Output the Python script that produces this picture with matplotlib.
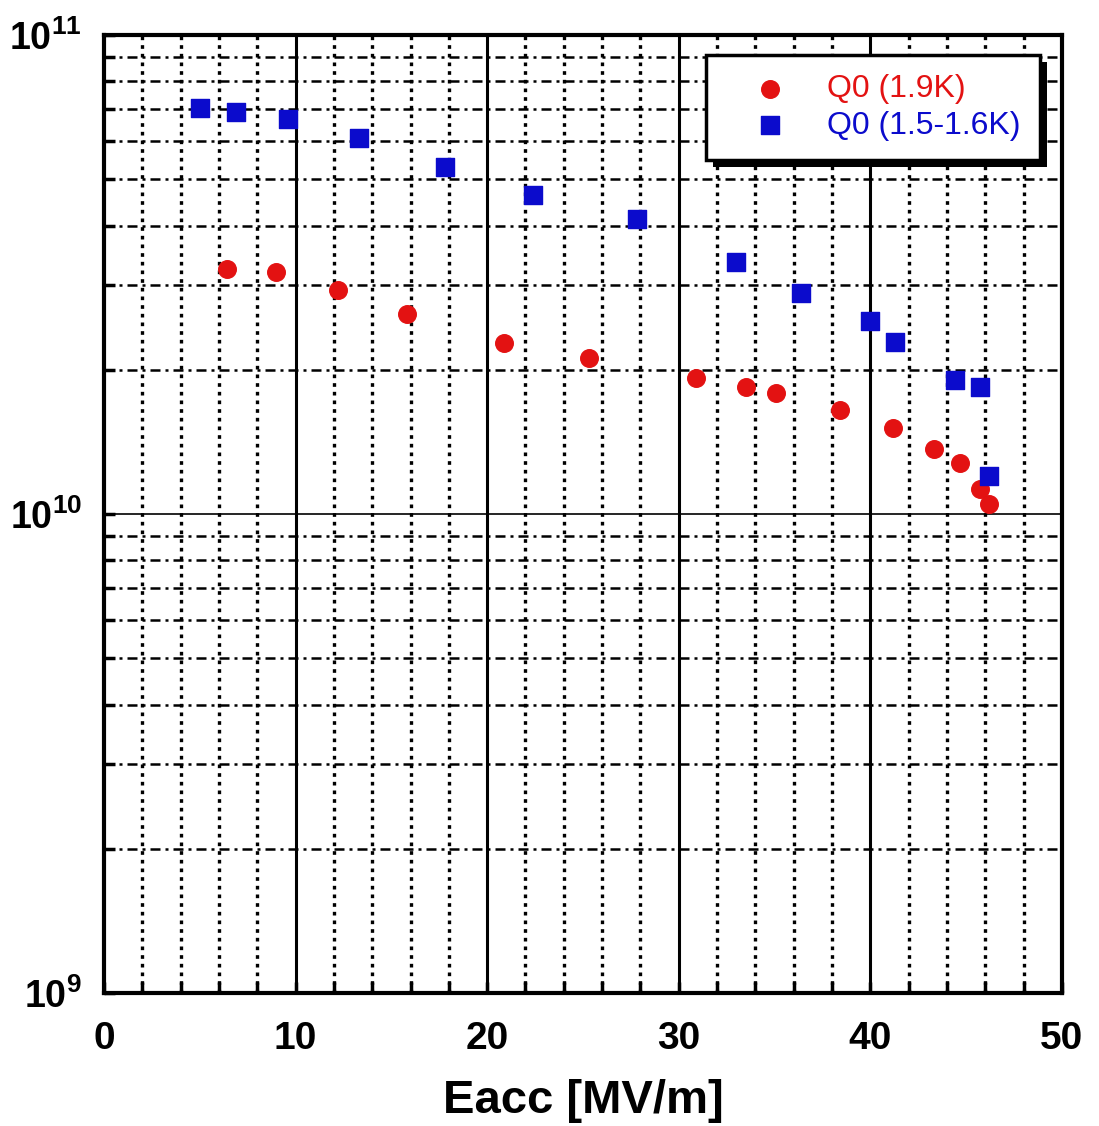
import numpy as np
import matplotlib.pyplot as plt
import matplotlib.patheffects as pe
from matplotlib.ticker import FixedLocator, LogLocator, NullFormatter

plt.rcParams['font.family'] = ['Liberation Sans', 'DejaVu Sans']
plt.rcParams['mathtext.fontset'] = 'custom'
plt.rcParams['mathtext.rm'] = 'Liberation Sans'
plt.rcParams['mathtext.bf'] = 'Liberation Sans:bold'

# Q0 at 1.9 K
eacc_19k = [6.4, 9.0, 12.2, 15.8, 20.9, 25.3, 30.9, 33.5, 35.1, 38.4, 41.2, 43.3, 44.7, 45.7, 46.2]
q0_19k = [3.25e10, 3.2e10, 2.94e10, 2.62e10, 2.28e10, 2.12e10, 1.92e10, 1.84e10,
          1.79e10, 1.65e10, 1.51e10, 1.37e10, 1.28e10, 1.13e10, 1.05e10]

# Q0 at 1.5-1.6 K
eacc_16k = [5.0, 6.9, 9.6, 13.3, 17.8, 22.4, 27.8, 33.0, 36.4, 40.0, 41.3, 44.4, 45.7, 46.2]
q0_16k = [7.04e10, 6.9e10, 6.68e10, 6.1e10, 5.3e10, 4.63e10, 4.13e10, 3.36e10,
          2.89e10, 2.53e10, 2.29e10, 1.9e10, 1.84e10, 1.2e10]

x_major = [0, 10, 20, 30, 40, 50]
y_major = [1e9, 1e10, 1e11]
y_labels = [r'$\mathbf{10^{9}}$', r'$\mathbf{10^{10}}$', r'$\mathbf{10^{11}}$']

red = '#e31212'
blue = '#0b0bcc'

fig = plt.figure(figsize=(10.99, 11.26), dpi=100)
ax = fig.add_axes([0.0946, 0.1181, 0.8717, 0.8508])

ax.set_yscale('log')
ax.set_xlim(0, 50)
ax.set_ylim(1e9, 1e11)

# grid: minor x dotted, minor y dash-dot, majors solid
ax.xaxis.set_major_locator(FixedLocator(x_major))
ax.xaxis.set_minor_locator(FixedLocator(np.arange(2, 50, 2)))
ax.yaxis.set_major_locator(FixedLocator(y_major))
ax.yaxis.set_minor_locator(LogLocator(base=10, subs=np.arange(2, 10)))
ax.yaxis.set_minor_formatter(NullFormatter())
ax.set_yticklabels(y_labels)

for xv in np.arange(2, 50, 2):
    if xv % 10:
        ax.axvline(xv, color='black', lw=2.4, ls=(0, (1.1, 1.5)), zorder=1)
for xv in [10, 20, 30, 40]:
    ax.axvline(xv, color='black', lw=2.2, zorder=1)
for dec in [1e9, 1e10]:
    for m in range(2, 10):
        ax.axhline(m * dec, color='black', lw=1.8, ls=(0, (4, 2, 1.2, 2)), zorder=1)
ax.axhline(1e10, color='black', lw=1.2, zorder=1)

ax.scatter(eacc_19k, q0_19k, marker='o', s=160, color=red, zorder=3, label='Q0 (1.9K)')
ax.scatter(eacc_16k, q0_16k, marker='s', s=160, color=blue, zorder=3, label='Q0 (1.5-1.6K)')

for sp in ax.spines.values():
    sp.set_linewidth(3)

ax.tick_params(which='both', direction='in', width=2.5, top=False, right=False)
ax.tick_params(which='major', length=8, labelsize=28)
ax.tick_params(axis='x', which='major', pad=20)
ax.tick_params(axis='y', which='major', pad=16, labelsize=27)
ax.tick_params(which='minor', length=8)
for lbl in ax.get_xticklabels():
    lbl.set_fontweight('bold')

ax.set_xlabel('Eacc [MV/m]', fontsize=34, fontweight='bold', labelpad=16)

leg = ax.legend(loc='upper right', bbox_to_anchor=(0.977, 0.979), fontsize=23,
                frameon=True, fancybox=False, edgecolor='black', framealpha=1.0,
                borderpad=0.6, handletextpad=0.4, labelspacing=0.2,
                borderaxespad=0, handlelength=2.8, markerscale=1.0)
frame = leg.get_frame()
frame.set_facecolor('white')
frame.set_linewidth(2.5)
frame.set_path_effects([pe.SimplePatchShadow(offset=(5, -5), shadow_rgbFace='black', alpha=1.0),
                        pe.Normal()])
leg.get_texts()[0].set_color(red)
leg.get_texts()[1].set_color(blue)
leg.set_zorder(5)

fig.savefig('out.png', dpi=100)
